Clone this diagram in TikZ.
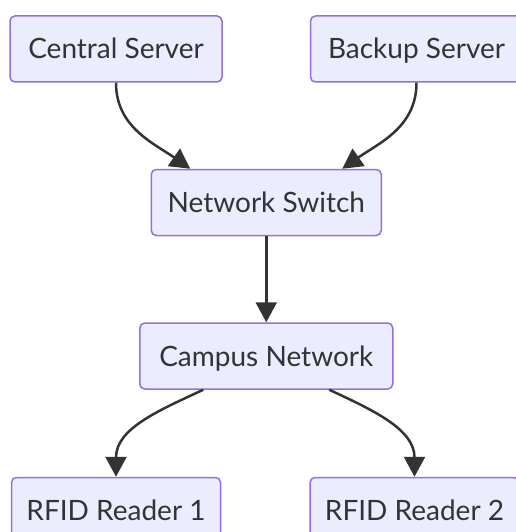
\documentclass[tikz,border=0pt]{standalone}
\usepackage{fontspec}
\setmainfont{Lato}
\usetikzlibrary{positioning,arrows.meta,calc}
\definecolor{boxfill}{HTML}{ECECFF}
\definecolor{boxline}{HTML}{9370DB}
\definecolor{ink}{HTML}{333333}
\tikzset{
  box/.style={draw=boxline, fill=boxfill, line width=1.5pt, rounded corners=5pt,
    minimum height=66pt, text height=24pt, text depth=4pt, text=ink,
    font=\fontsize{28}{32}\selectfont},
  link/.style={draw=ink, line width=2.5pt, -{Triangle[length=20pt,width=21pt]}},
}
\begin{document}
\begin{tikzpicture}[x=1pt,y=-1pt]
    \useasboundingbox (0,0) rectangle (515,532);
    \node[box, minimum width=212pt] (central) at (116,49) {Central Server}; %
    \node[box, minimum width=212pt, right=87pt of central] (backup) {Backup Server};
    \node[box, minimum width=230pt, below=86pt of {$(central.south)!.5!(backup.south)$}] (switch) {Network Switch};
    \node[box, minimum width=253pt, below=86pt of switch] (campus) {Campus Network};
    \node[box, minimum width=209pt, below=87pt of {campus.south -| central.south}] (reader1) {RFID Reader 1};
    \node[box, minimum width=209pt, right=88pt of reader1] (reader2) {RFID Reader 2};
    \draw[link] (central.south) to[out=-90, in=145] ([xshift=-76pt]switch.north);
    \draw[link] (backup.south) to[out=-90, in=35] ([xshift=76pt]switch.north);
    \draw[link] (switch) -- (campus);
    \draw[link] ([xshift=-63pt]campus.south) to[out=-155, in=90] (reader1.north);
    \draw[link] ([xshift=63pt]campus.south) to[out=-25, in=90] (reader2.north);
\end{tikzpicture}
\end{document}
